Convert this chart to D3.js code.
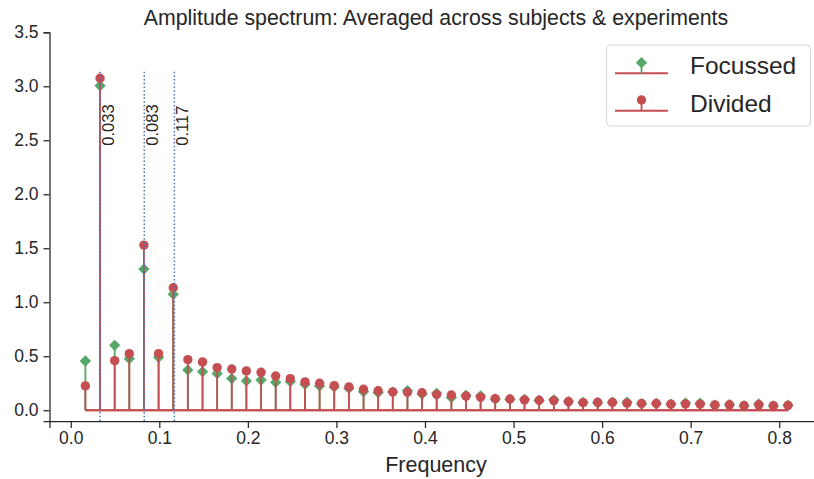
<!DOCTYPE html>
<html>
<head>
<meta charset="utf-8">
<script src="https://cdn.jsdelivr.net/npm/d3@7/dist/d3.min.js"></script>
<style>
  html, body { margin: 0; padding: 0; background: #fff; }
  svg text { font-family: "Liberation Sans", Arial, sans-serif; fill: #262626; }
</style>
</head>
<body>
<svg id="chart" width="814" height="479"></svg>
<script>
// Frequency bins (Hz)
const frequencies = [
  0.0165, 0.0331, 0.0496, 0.0661, 0.0826, 0.0992, 0.1157, 0.1322, 0.1488, 0.1653,
  0.1818, 0.1983, 0.2149, 0.2314, 0.2479, 0.2645, 0.2810, 0.2975, 0.3141, 0.3306,
  0.3471, 0.3636, 0.3802, 0.3967, 0.4132, 0.4298, 0.4463, 0.4628, 0.4793, 0.4959,
  0.5124, 0.5289, 0.5455, 0.5620, 0.5785, 0.5950, 0.6116, 0.6281, 0.6446, 0.6612,
  0.6777, 0.6942, 0.7107, 0.7273, 0.7438, 0.7603, 0.7769, 0.7934, 0.8099
];
// Mean amplitude, focussed attention condition
const focussed = [
  0.456, 3.006, 0.601, 0.477, 1.307, 0.490, 1.073, 0.373, 0.357, 0.339,
  0.294, 0.271, 0.280, 0.259, 0.265, 0.240, 0.225, 0.216, 0.203, 0.172,
  0.163, 0.168, 0.181, 0.150, 0.156, 0.118, 0.138, 0.132, 0.104, 0.100,
  0.100, 0.090, 0.096, 0.080, 0.072, 0.070, 0.072, 0.075, 0.060, 0.062,
  0.055, 0.066, 0.064, 0.047, 0.052, 0.040, 0.058, 0.040, 0.046
];
// Mean amplitude, divided attention condition
const divided = [
  0.225, 3.074, 0.459, 0.524, 1.529, 0.524, 1.134, 0.468, 0.447, 0.394,
  0.382, 0.364, 0.351, 0.317, 0.292, 0.262, 0.250, 0.228, 0.216, 0.194,
  0.180, 0.170, 0.166, 0.162, 0.145, 0.141, 0.131, 0.121, 0.107, 0.104,
  0.095, 0.092, 0.089, 0.080, 0.070, 0.073, 0.073, 0.065, 0.062, 0.062,
  0.056, 0.058, 0.056, 0.049, 0.050, 0.043, 0.050, 0.042, 0.045
];
// Stimulation frequencies marked with dotted lines
const markedFreqs = [0.033, 0.083, 0.117];
const markedLabels = ["0.033", "0.083", "0.117"];
const xTicks = [0.0, 0.1, 0.2, 0.3, 0.4, 0.5, 0.6, 0.7, 0.8];
const yTicks = [0.0, 0.5, 1.0, 1.5, 2.0, 2.5, 3.0, 3.5];

const RED = "#c44e52", GREEN = "#55a868", BLUE = "#4c72b0", INK = "#262626";

const svg = d3.select("#chart");
const x = d3.scaleLinear().domain([-0.024, 0.85]).range([49.5, 823.5]);
const y = d3.scaleLinear().domain([-0.1, 3.5]).range([421, 32.3]);

// Axes
const xAxis = svg.append("g").attr("transform", `translate(0,${y.range()[0]})`)
  .call(d3.axisBottom(x).tickValues(xTicks).tickFormat(d3.format(".1f")).tickSizeOuter(0).tickSize(7).tickPadding(4));
const yAxis = svg.append("g").attr("transform", `translate(${x.range()[0]},0)`)
  .call(d3.axisLeft(y).tickValues(yTicks).tickFormat(d3.format(".1f")).tickSizeOuter(0).tickSize(6).tickPadding(5));
[xAxis, yAxis].forEach(g => {
  g.select(".domain").attr("stroke", INK).attr("stroke-width", 1.25);
  g.selectAll(".tick line").attr("stroke", INK).attr("stroke-width", 1.25);
  g.selectAll(".tick text").attr("font-size", 17.5).attr("fill", INK)
    .style("font-family", '"Liberation Sans", Arial, sans-serif');
});

const plot = svg.append("g");

// Stem series: stems, baseline, markers
function stems(values, colour) {
  plot.append("g").selectAll("line").data(values).join("line")
    .attr("x1", (d, i) => x(frequencies[i])).attr("x2", (d, i) => x(frequencies[i]))
    .attr("y1", y(0)).attr("y2", d => y(d))
    .attr("stroke", colour).attr("stroke-width", 1.8);
}
function baseline() {
  plot.append("line")
    .attr("x1", x(frequencies[0])).attr("x2", x(frequencies[frequencies.length - 1]))
    .attr("y1", y(0)).attr("y2", y(0))
    .attr("stroke", RED).attr("stroke-width", 2);
}
const diamond = d3.symbol().type(d3.symbolDiamond2).size(82);

// Focussed (green diamonds)
stems(focussed, GREEN);
baseline();
plot.append("g").selectAll("path").data(focussed).join("path")
  .attr("d", diamond)
  .attr("transform", (d, i) => `translate(${x(frequencies[i])},${y(d)})`)
  .attr("fill", GREEN);

// Divided (red circles)
stems(divided, RED);
baseline();
plot.append("g").selectAll("circle").data(divided).join("circle")
  .attr("cx", (d, i) => x(frequencies[i])).attr("cy", d => y(d))
  .attr("r", 4.7).attr("fill", RED);

// Dotted stimulation-frequency lines with labels
markedFreqs.forEach((f, i) => {
  plot.append("line")
    .attr("x1", x(f)).attr("x2", x(f))
    .attr("y1", y(-0.1)).attr("y2", y(-0.1 + 0.9 * 3.6))
    .attr("stroke", BLUE).attr("stroke-width", 1.5)
    .attr("stroke-dasharray", "1.5,2.2");
  svg.append("text")
    .attr("transform", `translate(${x(f) + 14},${y(2.45)}) rotate(-90)`)
    .attr("font-size", 16.5).attr("fill", INK)
    .text(markedLabels[i]);
});

// Title and axis label
svg.append("text").attr("x", 436).attr("y", 25).attr("text-anchor", "middle")
  .attr("font-size", 21.3).text("Amplitude spectrum: Averaged across subjects & experiments");
svg.append("text").attr("x", 436).attr("y", 472).attr("text-anchor", "middle")
  .attr("font-size", 21.5).text("Frequency");

// Legend
const lg = svg.append("g");
lg.append("rect").attr("x", 606.5).attr("y", 45).attr("width", 204).attr("height", 81)
  .attr("rx", 4).attr("fill", "#fff").attr("fill-opacity", 0.8)
  .attr("stroke", "#d6d6d6").attr("stroke-width", 1);
const legendItems = [
  { label: "Focussed", colour: GREEN, shape: "diamond", yBase: 73.3, yMark: 62.7 },
  { label: "Divided", colour: RED, shape: "circle", yBase: 110.7, yMark: 100 }
];
legendItems.forEach(it => {
  lg.append("line").attr("x1", 615).attr("x2", 668).attr("y1", it.yBase).attr("y2", it.yBase)
    .attr("stroke", RED).attr("stroke-width", 2);
  lg.append("line").attr("x1", 641.5).attr("x2", 641.5).attr("y1", it.yBase).attr("y2", it.yMark)
    .attr("stroke", it.colour).attr("stroke-width", 1.8);
  if (it.shape === "diamond") {
    lg.append("path").attr("d", diamond).attr("transform", `translate(641.5,${it.yMark})`).attr("fill", it.colour);
  } else {
    lg.append("circle").attr("cx", 641.5).attr("cy", it.yMark).attr("r", 4.7).attr("fill", it.colour);
  }
  lg.append("text").attr("x", 690).attr("y", it.yBase + 1).attr("font-size", 24.5).text(it.label);
});
</script>
</body>
</html>
